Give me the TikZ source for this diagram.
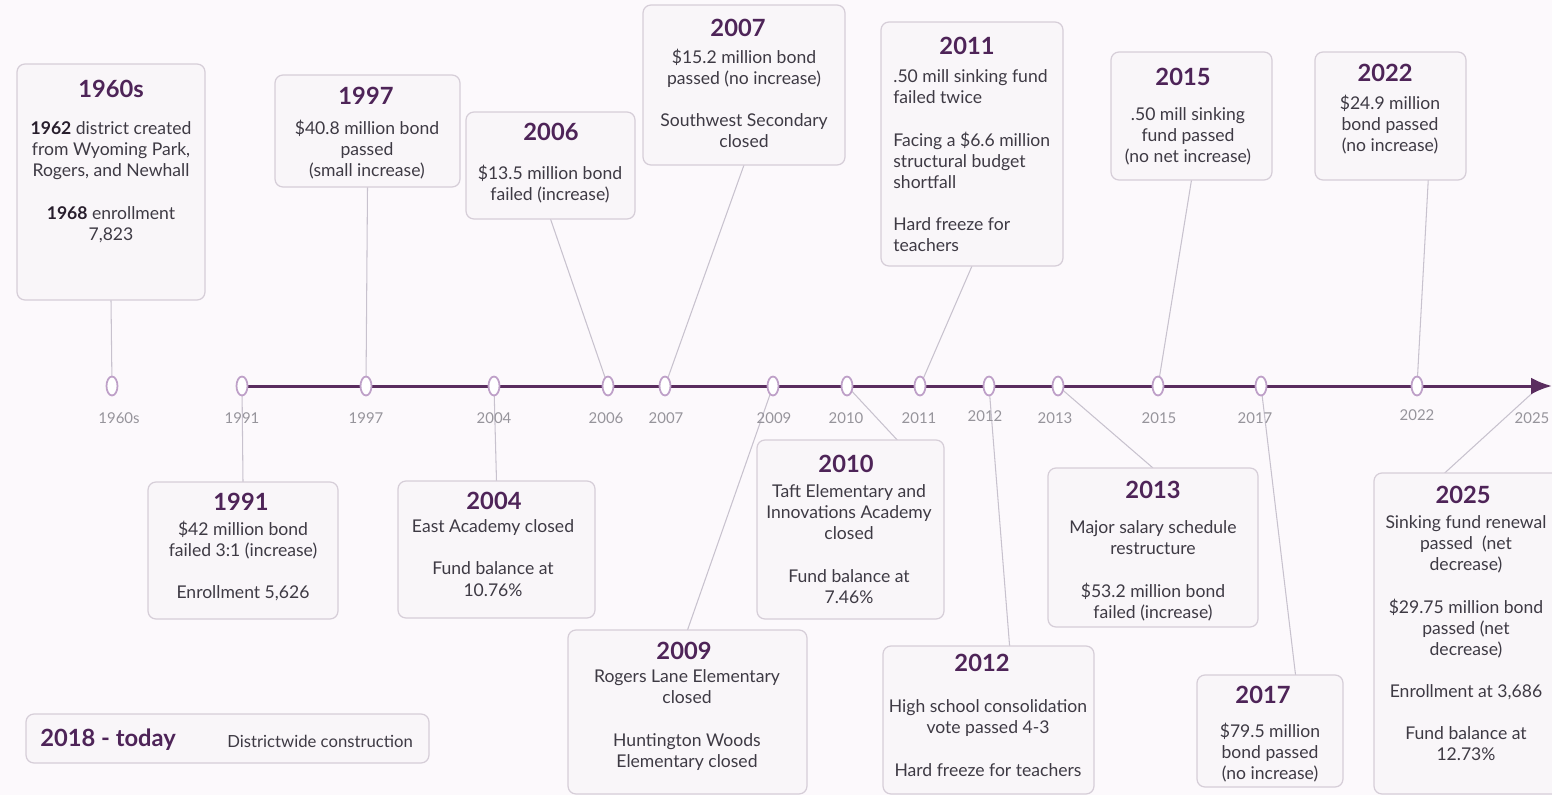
\documentclass[tikz,border=0pt]{standalone}
\usepackage{fontspec}
\setmainfont{Lato}
\usepackage{tikz}
\usetikzlibrary{shapes.geometric, fit, calc, backgrounds, arrows.meta}
\definecolor{bgc}{RGB}{252,249,252}
\definecolor{boxfill}{RGB}{249,246,249}
\definecolor{boxline}{RGB}{214,206,216}
\definecolor{titlec}{RGB}{78,36,88}
\definecolor{bodyc}{RGB}{62,58,68}
\definecolor{strongc}{RGB}{40,30,45}
\definecolor{linec}{RGB}{90,45,95}
\definecolor{mkc}{RGB}{190,160,200}
\definecolor{connc}{RGB}{200,194,206}
\definecolor{lblc}{RGB}{150,148,155}

\begin{document}
\begin{tikzpicture}[x=0.02cm, y=-0.02cm,
		evbox/.style={draw=boxline, fill=boxfill, line width=0.7pt, rounded corners=0.16cm, inner sep=0pt, outer sep=0pt},
		yr/.style={text=titlec, font=\bfseries\fontsize{13.5}{16}\selectfont, inner sep=0pt},
		desc/.style={text=bodyc, font=\fontsize{10}{12}\selectfont, align=center, anchor=north, inner sep=0pt},
		mk/.style={ellipse, draw=mkc, fill=white, line width=1pt, minimum width=0.22cm, minimum height=0.38cm, inner sep=0pt},
		lbl/.style={text=lblc, font=\fontsize{8.5}{10}\selectfont, inner sep=0pt},
		conn/.style={draw=connc, line width=0.6pt},
		tline/.style={draw=linec, line width=1.7pt}]
		\useasboundingbox (0,0) rectangle (1552,795);
		\begin{scope}[on background layer]
			\fill[bgc] (0,0) rectangle (1552,795);
		\end{scope}
		\clip (0,0) rectangle (1552,795);
		% boxes above the line
		\node[evbox, fit={(17,64) (205,300)}] (b60) {};
		\node[evbox, fit={(275,75) (460,187)}] (b97) {};
		\node[evbox, fit={(466,112) (635,219)}] (b06) {};
		\node[evbox, fit={(643,5) (845,165)}] (b07) {};
		\node[evbox, fit={(881,22) (1063,266)}] (b11) {};
		\node[evbox, fit={(1111,52) (1272,180)}] (b15) {};
		\node[evbox, fit={(1315,52) (1466,180)}] (b22) {};
		% boxes below the line
		\node[evbox, fit={(148,482) (338,619)}] (b91) {};
		\node[evbox, fit={(398,481) (595,618)}] (b04) {};
		\node[evbox, fit={(568,630) (807,794)}] (b09) {};
		\node[evbox, fit={(757,440) (944,619)}] (b10) {};
		\node[evbox, fit={(883,646) (1094,794)}] (b12) {};
		\node[evbox, fit={(1048,468) (1258,627)}] (b13) {};
		\node[evbox, fit={(1197,675) (1343,787)}] (b17) {};
		\node[evbox, fit={(1374,473) (1560,794)}] (b25) {};
		\node[evbox, fit={(26,714) (429,763)}] (bleg) {};

		\node[yr] (t60) at (111,89) {1960s};
		\node[desc] (d60) at (111,121.5) {\textcolor{strongc}{\textbf{1962}} district created\\from Wyoming Park,\\Rogers, and Newhall\\[12pt]\textcolor{strongc}{\textbf{1968}} enrollment\\7,823};
		\node[yr] (t97) at (366,96) {1997};
		\node[desc] (d97) at (367,119.5) {\$40.8 million bond\\passed\\(small increase)};
		\node[yr] (t06) at (551,132) {2006};
		\node[desc] (d06) at (550,164.5) {\$13.5 million bond\\failed (increase)};
		\node[yr] (t07) at (738,28) {2007};
		\node[desc] (d07) at (744,48.5) {\$15.2 million bond\\passed (no increase)\\[12pt]Southwest Secondary\\closed};
		\node[yr] (t11) at (967,46) {2011};
		\node[desc, align=left, anchor=north west] (d11) at (893,69.5) {.50 mill sinking fund\\failed twice\\[12pt]Facing a \$6.6 million\\structural budget\\shortfall\\[12pt]Hard freeze for\\teachers};
		\node[yr] (t15) at (1183,77) {2015};
		\node[desc] (d15) at (1188,107.5) {.50 mill sinking\\fund passed\\(no net increase)};
		\node[yr] (t22) at (1385,73) {2022};
		\node[desc] (d22) at (1390,94.5) {\$24.9 million\\bond passed\\(no increase)};

		\node[yr] (t91) at (241,502) {1991};
		\node[desc] (d91) at (243,520.5) {\$42 million bond\\failed 3:1 (increase)\\[12pt]Enrollment 5,626};
		\node[yr] (t04) at (494,501) {2004};
		\node[desc] (d04) at (493,519.5) {East Academy closed\\[12pt]Fund balance at\\10.76\%};
		\node[yr] (t09) at (684,651) {2009};
		\node[desc] (d09) at (687,669.5) {Rogers Lane Elementary\\closed\\[12pt]Huntington Woods\\Elementary closed};
		\node[yr] (t10) at (846,464) {2010};
		\node[desc] (d10) at (849,484.5) {Taft Elementary and\\Innovations Academy\\closed\\[12pt]Fund balance at\\7.46\%};
		\node[yr] (t12) at (982,663) {2012};
		\node[desc] (d12) at (988,699.5) {High school consolidation\\vote passed 4-3\\[12pt]Hard freeze for teachers};
		\node[yr] (t13) at (1153,490) {2013};
		\node[desc] (d13) at (1153,520.5) {Major salary schedule\\restructure\\[12pt]\$53.2 million bond\\failed (increase)};
		\node[yr] (t17) at (1263,695) {2017};
		\node[desc] (d17) at (1270,722.5) {\$79.5 million\\bond passed\\(no increase)};
		\node[yr] (t25) at (1463,495) {2025};
		\node[desc] (d25) at (1466,515.5) {Sinking fund renewal\\passed~ (net\\decrease)\\[12pt]\$29.75 million bond\\passed (net\\decrease)\\[12pt]Enrollment at 3,686\\[12pt]Fund balance at\\12.73\%};

		\node[yr, anchor=west] (tleg) at (40,740) {2018 - today};
		\node[text=bodyc, font=\fontsize{9.5}{11}\selectfont, anchor=west, inner sep=0pt] (dleg) at (227,741) {Districtwide construction};

		% markers on the line
		\node[mk] (m60) at (112,386) {};
		\node[mk] (m91) at (242,386) {};
		\node[mk] (m97) at (366,386) {};
		\node[mk] (m04) at (494,386) {};
		\node[mk] (m06) at (608,386) {};
		\node[mk] (m07) at (665,386) {};
		\node[mk] (m09) at (773,386) {};
		\node[mk] (m10) at (847,386) {};
		\node[mk] (m11) at (920,386) {};
		\node[mk] (m12) at (989,386) {};
		\node[mk] (m13) at (1058,386) {};
		\node[mk] (m15) at (1158,386) {};
		\node[mk] (m17) at (1261,386) {};
		\node[mk] (m22) at (1417,386) {};
		\coordinate (m25) at (1540,386);
		\coordinate (tip) at (1552,386);

		\node[lbl] (y60) at (119,418) {1960s};
		\node[lbl] (y91) at (242,418) {1991};
		\node[lbl] (y97) at (366,418) {1997};
		\node[lbl] (y04) at (494,418) {2004};
		\node[lbl] (y06) at (606,418) {2006};
		\node[lbl] (y07) at (666,418) {2007};
		\node[lbl] (y09) at (774,418) {2009};
		\node[lbl] (y10) at (846,418) {2010};
		\node[lbl] (y11) at (919,418) {2011};
		\node[lbl] (y12) at (985,416) {2012};
		\node[lbl] (y13) at (1055,418) {2013};
		\node[lbl] (y15) at (1159,418) {2015};
		\node[lbl] (y17) at (1255,418) {2017};
		\node[lbl] (y22) at (1417,415) {2022};
		\node[lbl] (y25) at (1532,418) {2025};

		\begin{scope}[on background layer]
			\draw[conn] (b60.south) -- (m60.center);
			\draw[conn] (b97.south) -- (m97.center);
			\draw[conn] (b06.south) -- (m06.center);
			\draw[conn] (b07.south) -- (m07.center);
			\draw[conn] (b11.south) -- (m11.center);
			\draw[conn] (b15.south) -- (m15.center);
			\draw[conn] ($(b22.south)!.5!(b22.south east)$) -- (m22.center);
			\draw[conn] (m91.center) -- (b91.north);
			\draw[conn] (m04.center) -- (b04.north);
			\draw[conn] (m09.center) -- (b09.north);
			\draw[conn] (m10.center) -- ($(b10.north)!.5!(b10.north east)$);
			\draw[conn] (m12.center) -- ($(b12.north)!.2!(b12.north east)$);
			\draw[conn] (m13.center) -- (b13.north);
			\draw[conn] (m17.center) -- ($(b17.north)!.35!(b17.north east)$);
			\draw[conn] (m25) -- ($(b25.north west)!.38!(b25.north east)$);
			\draw[tline, -{Latex[length=0.42cm, width=0.34cm]}] (m91.center) -- (tip);
		\end{scope}
	\end{tikzpicture}
\end{document}
